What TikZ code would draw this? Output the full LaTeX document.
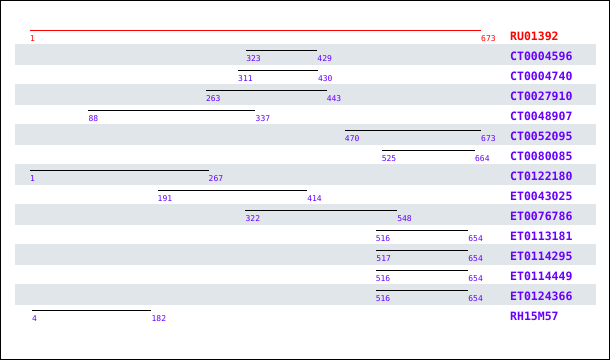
\documentclass[tikz,border=0pt]{standalone}
\usepackage{fontspec}
\newfontfamily\monofont{DejaVu Sans Mono}
\definecolor{hitcol}{HTML}{6600FF}
\definecolor{refcol}{HTML}{FF0000}
\definecolor{stripe}{HTML}{E1E6EA}
\begin{document}
\begin{tikzpicture}[x=1pt,y=-1pt,
  numlab/.style={anchor=west,inner sep=0pt,font=\monofont\fontsize{8}{8}\selectfont,text=hitcol},
  namelab/.style={anchor=west,inner sep=0pt,font=\monofont\bfseries\fontsize{11.5}{11.5}\selectfont,text=hitcol},
  hitline/.style={draw=black,line width=1pt},
  reflabcol/.style={text=refcol},
  stripebox/.style={fill=stripe,draw=none}]
\useasboundingbox (0,0) rectangle (610,360);
\draw[line width=1pt] (0.5,0.5) rectangle (609.5,359.5);
% stripes
\foreach \k in {1,3,...,13}{
  \fill[stripe] (15,{24+20*\k}) rectangle (596,{45+20*\k});
}
\newcommand{\xpos}[1]{30+(#1-1)*0.6711}
% reference row
\coordinate (r0a) at ({\xpos{1}},30.5);
\coordinate (r0b) at ({\xpos{673}},30.5);
\draw[draw=refcol,line width=1pt] (r0a) -- (r0b);
\node[numlab,reflabcol] (n0a) at ({\xpos{1}},38.8) {1};
\node[numlab,reflabcol] (n0b) at ({\xpos{673}},38.8) {673};
\node[namelab,reflabcol] (name0) at (510,36.5) {RU01392};
% hits
\foreach \k/\a/\b/\nm in {1/323/429/CT0004596,2/311/430/CT0004740,3/263/443/CT0027910,4/88/337/CT0048907,5/470/673/CT0052095,6/525/664/CT0080085,7/1/267/CT0122180,8/191/414/ET0043025,9/322/548/ET0076786,10/516/654/ET0113181,11/517/654/ET0114295,12/516/654/ET0114449,13/516/654/ET0124366,14/4/182/RH15M57}{
  \coordinate (s\k) at ({\xpos{\a}},{30.5+20*\k});
  \coordinate (e\k) at ({\xpos{\b}},{30.5+20*\k});
  \draw[hitline] (s\k) -- (e\k);
  \node[numlab] (na\k) at ({\xpos{\a}},{38.8+20*\k}) {\a};
  \node[numlab] (nb\k) at ({\xpos{\b}},{38.8+20*\k}) {\b};
  \node[namelab] (name\k) at (510,{36.5+20*\k}) {\nm};
}
\end{tikzpicture}
\end{document}
